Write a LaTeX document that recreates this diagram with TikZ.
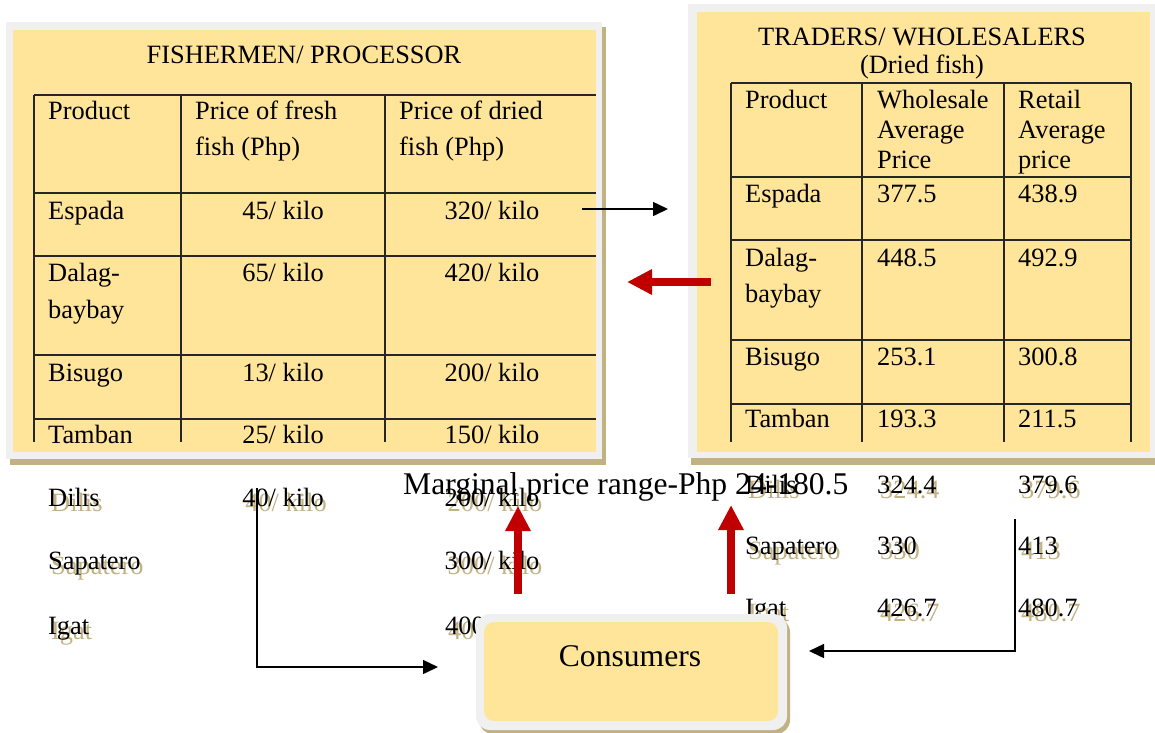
\documentclass[tikz,border=0pt]{standalone}
\usepackage{fontspec}
\setmainfont{Liberation Serif}
\usetikzlibrary{arrows.meta}
\definecolor{boxyellow}{RGB}{255,229,153}
\definecolor{framegray}{RGB}{240,240,240}
\definecolor{shadowtan}{RGB}{194,177,131}
\definecolor{flowred}{RGB}{192,0,0}
\newcommand\cellfont{\fontsize{26.4}{30}\selectfont}
\newcommand\largefont{\fontsize{31.6}{36}\selectfont}
\tikzset{
  cell/.style={anchor=base west, inner sep=0pt, font=\cellfont},
  cellc/.style={anchor=base, inner sep=0pt, font=\cellfont},
  rule/.style={line width=1.2pt, black!85},
  thinarrow/.style={line width=1.5pt, -{Triangle[length=15pt,width=14pt]}},
  thickarrow/.style={line width=8pt, flowred, -{Triangle[length=25pt,width=24pt]}},
}
% text with a tan drop shadow: name, style, position, text
\newcommand\shadowtext[4]{%
  \node[#2, text=shadowtan, xshift=3pt, yshift=-5pt] (#1s) at (#3) {#4};
  \node[#2] (#1) at (#3) {#4};}
\begin{document}
\begin{tikzpicture}[x=1pt,y=-1pt]
\useasboundingbox (0,0) rectangle (1155,732);

% ---------- Fishermen / processor panel ----------
\fill[shadowtan] (10,27) rectangle (606,465);
\fill[framegray] (6,22) rectangle (602,459);
\fill[boxyellow] (13,30) rectangle (596,452);
\node[cellc] (ftitle) at (304,63) {FISHERMEN/ PROCESSOR};
\foreach \yy in {95,193,256,355,419} \draw[rule] (34,\yy) -- (596,\yy);
\foreach \xx in {34,181,385} \draw[rule] (\xx,95) -- (\xx,442);

\node[cell] (fh1) at (48,119) {Product};
\node[cell] (fh2) at (195,119) {Price of fresh};
\node[cell] (fh2b) at (195,155) {fish (Php)};
\node[cell] (fh3) at (399,119) {Price of dried};
\node[cell] (fh3b) at (399,155) {fish (Php)};

\node[cell] (fr1) at (48,219) {Espada};
\node[cellc] (fr1a) at (283,219) {45/ kilo};
\node[cellc] (fr1b) at (492,219) {320/ kilo};
\node[cell] (fr2) at (48,281) {Dalag-};
\node[cell] (fr2x) at (48,318) {baybay};
\node[cellc] (fr2a) at (283,281) {65/ kilo};
\node[cellc] (fr2b) at (492,281) {420/ kilo};
\node[cell] (fr3) at (48,381) {Bisugo};
\node[cellc] (fr3a) at (283,381) {13/ kilo};
\node[cellc] (fr3b) at (492,381) {200/ kilo};
\node[cell] (fr4) at (48,443) {Tamban};
\node[cellc] (fr4a) at (283,443) {25/ kilo};
\node[cellc] (fr4b) at (492,443) {150/ kilo};

% ---------- Traders / wholesalers panel ----------
\fill[shadowtan] (691,9) rectangle (1160,465);
\fill[framegray] (688,4) rectangle (1155,458);
\fill[boxyellow] (697,12) rectangle (1150,452);
\node[cellc] (ttitle) at (922,45) {TRADERS/ WHOLESALERS};
\node[cellc] (tsub) at (922,73) {(Dried fish)};
\foreach \yy in {83,177,240,340,404} \draw[rule] (731,\yy) -- (1131,\yy);
\foreach \xx in {731,862,1004,1131} \draw[rule] (\xx,83) -- (\xx,442);

\node[cell] (th1) at (745,108) {Product};
\node[cell] (th2) at (877,108) {Wholesale};
\node[cell] (th2b) at (877,138) {Average};
\node[cell] (th2c) at (877,168) {Price};
\node[cell] (th3) at (1018,108) {Retail};
\node[cell] (th3b) at (1018,138) {Average};
\node[cell] (th3c) at (1018,168) {price};

\node[cell] (tr1) at (745,202) {Espada};
\node[cell] (tr1a) at (877,202) {377.5};
\node[cell] (tr1b) at (1018,202) {438.9};
\node[cell] (tr2) at (745,266) {Dalag-};
\node[cell] (tr2x) at (745,302) {baybay};
\node[cell] (tr2a) at (877,266) {448.5};
\node[cell] (tr2b) at (1018,266) {492.9};
\node[cell] (tr3) at (745,365) {Bisugo};
\node[cell] (tr3a) at (877,365) {253.1};
\node[cell] (tr3b) at (1018,365) {300.8};
\node[cell] (tr4) at (745,427) {Tamban};
\node[cell] (tr4a) at (877,427) {193.3};
\node[cell] (tr4b) at (1018,427) {211.5};

% ---------- rows below the panels ----------
\shadowtext{fr5}{cell}{48,506}{Dilis}
\shadowtext{fr5a}{cellc}{283,506}{40/ kilo}
\shadowtext{fr5b}{cellc}{492,506}{200/ kilo}
\shadowtext{fr6}{cell}{48,569}{Sapatero}
\shadowtext{fr6b}{cellc}{492,569}{300/ kilo}
\shadowtext{fr7}{cell}{48,634}{Igat}
\shadowtext{fr7b}{cell}{445,634}{400}

\shadowtext{tr5}{cell}{745,493}{Dilis}
\shadowtext{tr5a}{cell}{877,493}{324.4}
\shadowtext{tr5b}{cell}{1018,493}{379.6}
\shadowtext{tr6}{cell}{745,554}{Sapatero}
\shadowtext{tr6a}{cell}{877,554}{330}
\shadowtext{tr6b}{cell}{1018,554}{413}
\shadowtext{tr7}{cell}{745,616}{Igat}
\shadowtext{tr7a}{cell}{877,616}{426.7}
\shadowtext{tr7b}{cell}{1018,616}{480.7}

\node[anchor=base west, inner sep=0pt, font=\largefont] (margin) at (403,494) {Marginal price range-Php 24-180.5};

% ---------- Consumers ----------
\fill[shadowtan, rounded corners=14pt] (479,618) rectangle (790,734);
\fill[framegray, rounded corners=14pt] (476,614) rectangle (787,730);
\fill[boxyellow, rounded corners=10pt] (484,622) rectangle (778,721);
\node[anchor=base, inner sep=0pt, font=\largefont] (cons) at (630,666) {Consumers};

% ---------- flows ----------
\coordinate (sellS) at (582,209);
\coordinate (sellE) at (668,209);
\draw[thinarrow] (sellS) -- (sellE);

\coordinate (payS) at (711,282);
\coordinate (payE) at (627,282);
\draw[thickarrow] (payS) -- (payE);

\coordinate (upLS) at (518,594);
\coordinate (upLE) at (518,506);
\draw[thickarrow] (upLS) -- (upLE);
\coordinate (upRS) at (731,594);
\coordinate (upRE) at (731,505);
\draw[thickarrow] (upRS) -- (upRE);

\coordinate (leftS) at (257,488);
\coordinate (leftE) at (438,667);
\draw[thinarrow] (leftS) |- (leftE);
\coordinate (rightS) at (1015,519);
\coordinate (rightE) at (809,651);
\draw[thinarrow] (rightS) |- (rightE);
\end{tikzpicture}
\end{document}
